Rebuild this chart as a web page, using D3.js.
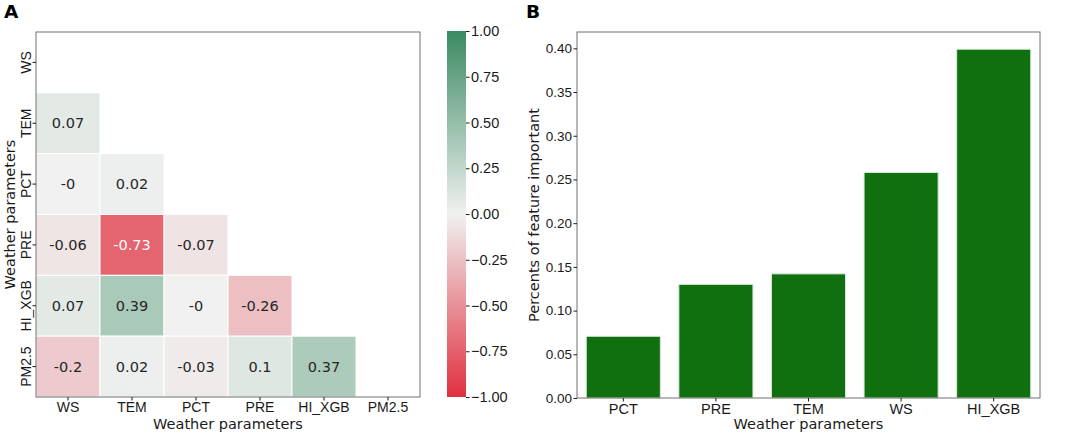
<!DOCTYPE html>
<html lang="en">
<head>
  <meta charset="UTF-8">
  <title>Weather parameters: correlation and feature importance</title>
  <script src="https://d3js.org/d3.v7.min.js"></script>
  <style>
    body { margin: 0; background: #fff; }
    svg { display: block; font-family: "DejaVu Sans", sans-serif; }
  </style>
</head>
<body>
  <svg id="chart" width="1065" height="434"></svg>
  <script>
    // heatmap data (lower triangle, row by row)
    const params = ['WS', 'TEM', 'PCT', 'PRE', 'HI_XGB', 'PM2.5'];
    const corrRows = [
      [],
      [0.07],
      [-0, 0.02],
      [-0.06, -0.73, -0.07],
      [0.07, 0.39, -0, -0.26],
      [-0.2, 0.02, -0.03, 0.1, 0.37]
    ];
    const cbarTicks = [1, 0.75, 0.5, 0.25, 0, -0.25, -0.5, -0.75, -1];

    // feature importance data
    const features = ['PCT', 'PRE', 'TEM', 'WS', 'HI_XGB'];
    const importance = [0.0706, 0.130, 0.142, 0.258, 0.399];
    const importanceTicks = [0, 0.05, 0.1, 0.15, 0.2, 0.25, 0.3, 0.35, 0.4];

    const svg = d3.select('#chart');
    const ink = '#1a1a1a';
    const frame = '#707070';

    const color = d3.scaleLinear()
      .domain([-1, 0, 1])
      .range(['#e0303f', '#f0f1f0', '#3a8a62'])
      .interpolate(d3.interpolateRgb);

    // seaborn picks white text on dark cells
    function textColor(c) {
      const rgb = d3.rgb(c);
      const lin = v => { v /= 255; return v <= 0.03928 ? v / 12.92 : Math.pow((v + 0.055) / 1.055, 2.4); };
      const lum = 0.2126 * lin(rgb.r) + 0.7152 * lin(rgb.g) + 0.0722 * lin(rgb.b);
      return lum > 0.408 ? '#262626' : '#ffffff';
    }
    function fmt(v) {
      return (v < 0 || Object.is(v, -0)) ? '-' + Math.abs(v) : String(v);
    }
    function styleAxis(g, size) {
      g.select('.domain').remove();
      g.selectAll('line').attr('stroke', ink);
      g.selectAll('text').attr('font-size', size).attr('fill', ink).attr('font-family', null);
    }

    // ---------- panel A: heatmap ----------
    const hm = { left: 36, top: 32, right: 420, bottom: 397 };
    const hx = d3.scaleBand().domain(params).range([hm.left, hm.right]);
    const hy = d3.scaleBand().domain(params).range([hm.top, hm.bottom]);

    const cells = [];
    corrRows.forEach((row, i) => row.forEach((v, j) => cells.push({ r: params[i], c: params[j], v })));

    const gA = svg.append('g');
    gA.selectAll('rect.cell').data(cells).enter().append('rect')
      .attr('class', 'cell')
      .attr('x', d => hx(d.c))
      .attr('y', d => hy(d.r))
      .attr('width', hx.bandwidth())
      .attr('height', hy.bandwidth())
      .attr('fill', d => color(d.v))
      .attr('stroke', '#fff')
      .attr('stroke-width', 1);

    gA.selectAll('text.ann').data(cells).enter().append('text')
      .attr('class', 'ann')
      .attr('x', d => hx(d.c) + hx.bandwidth() / 2)
      .attr('y', d => hy(d.r) + hy.bandwidth() / 2)
      .attr('dy', '0.36em')
      .attr('text-anchor', 'middle')
      .attr('font-size', 14.5)
      .attr('fill', d => textColor(color(d.v)))
      .text(d => fmt(d.v));

    gA.append('rect')
      .attr('x', hm.left).attr('y', hm.top)
      .attr('width', hm.right - hm.left).attr('height', hm.bottom - hm.top)
      .attr('fill', 'none').attr('stroke', frame).attr('stroke-width', 1);

    const hxAxis = gA.append('g')
      .attr('transform', `translate(0,${hm.bottom})`)
      .call(d3.axisBottom(hx).tickSize(3.5).tickPadding(2));
    styleAxis(hxAxis, 14);

    const hyAxis = gA.append('g')
      .attr('transform', `translate(${hm.left},0)`)
      .call(d3.axisLeft(hy).tickSize(3.5).tickPadding(2));
    styleAxis(hyAxis, 14);
    hyAxis.selectAll('text')
      .attr('text-anchor', 'middle')
      .attr('dy', null)
      .attr('x', 0).attr('y', 0)
      .attr('transform', 'translate(-5,0) rotate(-90)');

    gA.append('text')
      .attr('x', (hm.left + hm.right) / 2).attr('y', 429)
      .attr('text-anchor', 'middle').attr('font-size', 14.5).attr('fill', ink)
      .text('Weather parameters');
    gA.append('text')
      .attr('transform', `translate(14.5,${(hm.top + hm.bottom) / 2}) rotate(-90)`)
      .attr('text-anchor', 'middle').attr('font-size', 14.5).attr('fill', ink)
      .text('Weather parameters');

    gA.append('text').attr('x', 4).attr('y', 17.5)
      .attr('font-size', 18.5).attr('font-weight', 'bold').attr('fill', '#000').text('A');

    // colorbar
    const cb = { left: 447, width: 19, top: 31, bottom: 397 };
    const cy = d3.scaleLinear().domain([-1, 1]).range([cb.bottom, cb.top]);
    const grad = svg.append('defs').append('linearGradient')
      .attr('id', 'cbar').attr('x1', 0).attr('y1', 1).attr('x2', 0).attr('y2', 0);
    d3.range(0, 1.0001, 0.05).forEach(t => {
      grad.append('stop').attr('offset', t).attr('stop-color', color(-1 + 2 * t));
    });
    svg.append('rect')
      .attr('x', cb.left).attr('y', cb.top)
      .attr('width', cb.width).attr('height', cb.bottom - cb.top)
      .attr('fill', 'url(#cbar)');
    const cbAxis = svg.append('g')
      .attr('transform', `translate(${cb.left + cb.width},0)`)
      .call(d3.axisRight(cy).tickValues(cbarTicks).tickSize(3.5).tickPadding(1.5)
        .tickFormat(d => d3.format('.2f')(d).replace('-', '\u2212')));
    styleAxis(cbAxis, 14.5);

    // ---------- panel B: bar chart ----------
    const bc = { left: 577, top: 32, right: 1040, bottom: 398 };
    const bx = d3.scaleBand().domain(features).range([bc.left, bc.right])
      .paddingInner(0.2).paddingOuter(0.1);
    const by = d3.scaleLinear().domain([0, 0.4187]).range([bc.bottom, bc.top]);

    const gB = svg.append('g');
    gB.selectAll('rect.bar').data(features).enter().append('rect')
      .attr('class', 'bar')
      .attr('x', d => bx(d))
      .attr('y', (d, i) => by(importance[i]))
      .attr('width', bx.bandwidth())
      .attr('height', (d, i) => by(0) - by(importance[i]))
      .attr('fill', '#107010')
      .attr('stroke', '#d8e8d8')
      .attr('stroke-width', 1);

    gB.append('rect')
      .attr('x', bc.left).attr('y', bc.top)
      .attr('width', bc.right - bc.left).attr('height', bc.bottom - bc.top)
      .attr('fill', 'none').attr('stroke', frame).attr('stroke-width', 1);

    const bxAxis = gB.append('g')
      .attr('transform', `translate(0,${bc.bottom})`)
      .call(d3.axisBottom(bx).tickSize(3.5).tickPadding(2));
    styleAxis(bxAxis, 14.5);

    const byAxis = gB.append('g')
      .attr('transform', `translate(${bc.left},0)`)
      .call(d3.axisLeft(by).tickValues(importanceTicks).tickSize(3.5).tickPadding(1.5)
        .tickFormat(d3.format('.2f')));
    styleAxis(byAxis, 13.5);

    gB.append('text')
      .attr('x', (bc.left + bc.right) / 2).attr('y', 429)
      .attr('text-anchor', 'middle').attr('font-size', 14.5).attr('fill', ink)
      .text('Weather parameters');
    gB.append('text')
      .attr('transform', `translate(539,${(bc.top + bc.bottom) / 2}) rotate(-90)`)
      .attr('text-anchor', 'middle').attr('font-size', 14.5).attr('fill', ink)
      .text('Percents of feature important');

    gB.append('text').attr('x', 526).attr('y', 17.5)
      .attr('font-size', 18.5).attr('font-weight', 'bold').attr('fill', '#000').text('B');
  </script>
</body>
</html>
